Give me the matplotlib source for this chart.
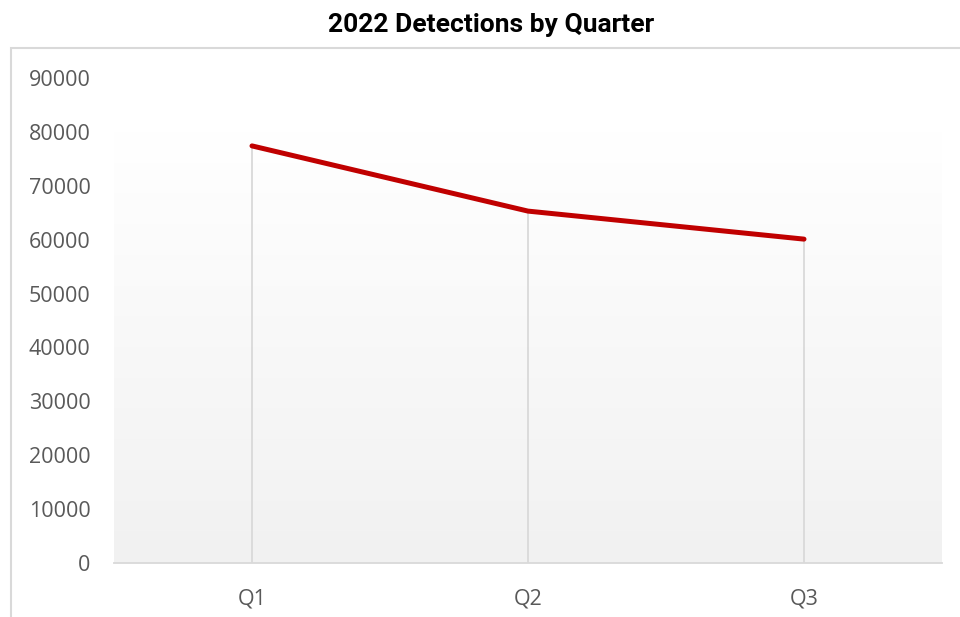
import numpy as np
import matplotlib
matplotlib.use("Agg")
import matplotlib.pyplot as plt
from matplotlib.patches import Rectangle
from matplotlib.colors import LinearSegmentedColormap

quarters = ["Q1", "Q2", "Q3"]
detections = [77400, 65300, 60100]
y_ticks = list(range(0, 90001, 10000))

TITLE = "2022 Detections by Quarter"
LINE_RED = "#c00000"
GRID_GRAY = "#d9d9d9"
TEXT_GRAY = "#595959"

fig = plt.figure(figsize=(9.6, 6.17), dpi=100)
ax = fig.add_axes([114 / 960, 54 / 617, 828 / 960, 485 / 617])

# chart-area border running off the right and bottom edges
fig.patches.append(Rectangle((11 / 960, -0.05), 1.0, 1 - 48 / 617 + 0.05,
                             transform=fig.transFigure, fill=False,
                             edgecolor=GRID_GRAY, linewidth=1.5, zorder=0))

x = np.arange(len(quarters))
ax.set_xlim(-0.5, len(quarters) - 0.5)
ax.set_ylim(0, 90000)

# plot-area gradient: light gray at the bottom fading to white
grad = LinearSegmentedColormap.from_list("fade", ["#f1f1f1", "#ffffff"])
ax.imshow(np.linspace(0, 1, 256).reshape(-1, 1), cmap=grad, aspect="auto",
          origin="lower", extent=(-0.5, len(quarters) - 0.5, 0, 80000),
          zorder=0)

# drop lines from each point to the axis
ax.vlines(x, 0, detections, colors=GRID_GRAY, linewidth=1.3, zorder=1)

ax.plot(x, detections, color=LINE_RED, linewidth=3.6,
        solid_capstyle="round", solid_joinstyle="round", zorder=3)

for side in ["top", "right", "left"]:
    ax.spines[side].set_visible(False)
ax.spines["bottom"].set_color(GRID_GRAY)
ax.spines["bottom"].set_linewidth(1.3)

ax.set_xticks(x)
ax.set_xticklabels(quarters)
ax.set_yticks(y_ticks)
ax.set_yticklabels([str(v) for v in y_ticks])
ax.tick_params(axis="both", length=0, colors=TEXT_GRAY, labelsize=15.5)
ax.tick_params(axis="y", pad=17)
ax.tick_params(axis="x", pad=18)
for lbl in ax.get_xticklabels() + ax.get_yticklabels():
    lbl.set_fontfamily("Open Sans")

fig.text(491 / 960, 1 - 25 / 617, TITLE, ha="center", va="center",
         fontsize=19, fontweight="bold", family="Roboto", color="black")

fig.savefig("out.png", dpi=100, facecolor="white")
